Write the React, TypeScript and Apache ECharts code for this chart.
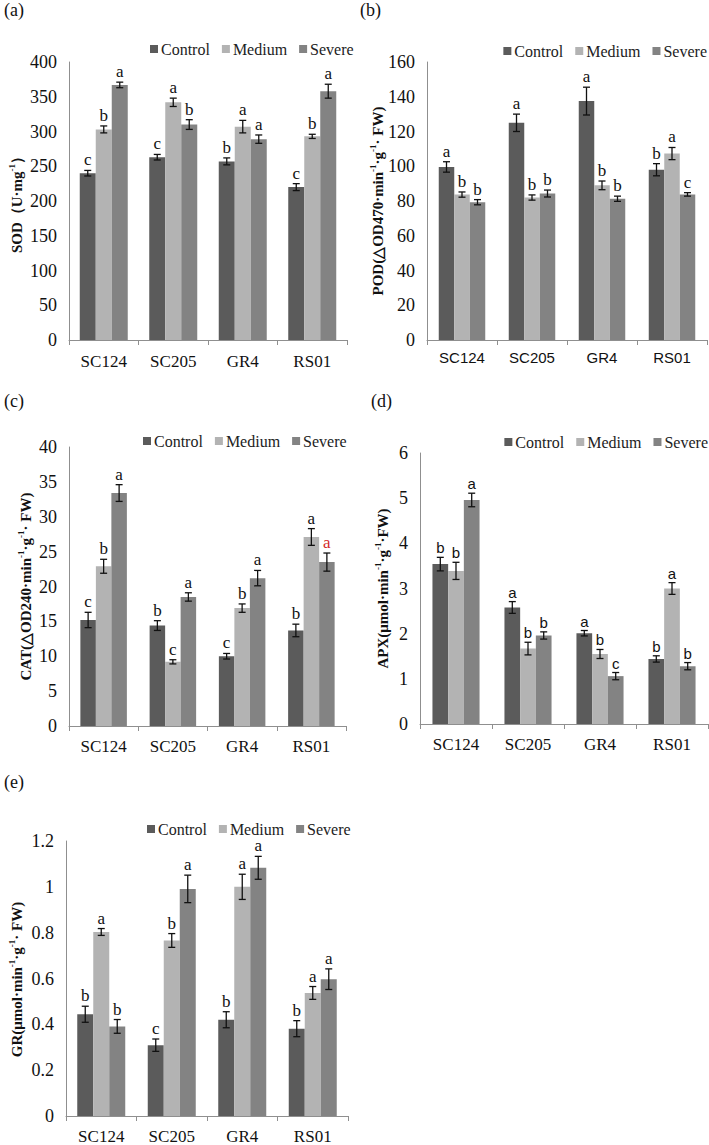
import React, { useEffect, useRef } from "react";
import * as echarts from "echarts";

const categories = ["SC124", "SC205", "GR4", "RS01"];
const treatments = ["Control", "Medium", "Severe"];

// (a) SOD
const sodControl = [240, 263, 257, 220];
const sodMedium = [303, 342, 307, 293];
const sodSevere = [367, 310, 289, 358];
const sodErrControl = [4, 4, 5, 5];
const sodErrMedium = [5, 6, 9, 3];
const sodErrSevere = [4, 7, 6, 10];
const sodLetControl = ["c", "c", "b", "c"];
const sodLetMedium = ["b", "a", "a", "b"];
const sodLetSevere = ["a", "b", "a", "a"];

// (b) POD
const podControl = [99.6, 125, 137.5, 98];
const podMedium = [83.7, 82, 89, 107.3];
const podSevere = [79.3, 84.3, 81.3, 83.8];
const podErrControl = [3, 5, 8, 3.5];
const podErrMedium = [1.5, 1.5, 2.5, 3.5];
const podErrSevere = [1.5, 2, 1.5, 1];
const podLetControl = ["a", "a", "a", "b"];
const podLetMedium = ["b", "b", "b", "a"];
const podLetSevere = ["b", "b", "b", "c"];

// (c) CAT
const catControl = [15.2, 14.4, 10.0, 13.7];
const catMedium = [22.9, 9.2, 16.9, 27.1];
const catSevere = [33.4, 18.5, 21.2, 23.5];
const catErrControl = [1.1, 0.7, 0.4, 0.9];
const catErrMedium = [1.0, 0.3, 0.6, 1.2];
const catErrSevere = [1.2, 0.6, 1.1, 1.3];
const catLetControl = ["c", "b", "c", "b"];
const catLetMedium = ["b", "c", "b", "a"];
const catLetSevere = ["a", "a", "a", "a"];

// (d) APX
const apxControl = [3.54, 2.58, 2.01, 1.44];
const apxMedium = [3.39, 1.67, 1.55, 3.0];
const apxSevere = [4.96, 1.96, 1.06, 1.28];
const apxErrControl = [0.15, 0.13, 0.06, 0.07];
const apxErrMedium = [0.19, 0.14, 0.1, 0.13];
const apxErrSevere = [0.15, 0.08, 0.08, 0.08];
const apxLetControl = ["b", "a", "a", "b"];
const apxLetMedium = ["b", "b", "b", "a"];
const apxLetSevere = ["a", "b", "c", "b"];

// (e) GR
const grControl = [0.444, 0.309, 0.42, 0.381];
const grMedium = [0.803, 0.766, 1.0, 0.537];
const grSevere = [0.391, 0.991, 1.083, 0.597];
const grErrControl = [0.035, 0.027, 0.035, 0.035];
const grErrMedium = [0.015, 0.03, 0.055, 0.028];
const grErrSevere = [0.03, 0.06, 0.05, 0.045];
const grLetControl = ["b", "c", "b", "b"];
const grLetMedium = ["a", "b", "a", "a"];
const grLetSevere = ["b", "a", "a", "a"];

const colors = ["#5b5b5b", "#b3b3b3", "#838383"];
const SERIF = "Liberation Serif";
const SANS = "Liberation Sans";

const panels = [
  {
    tag: "(a)", tagX: 4, tagY: 11,
    title: "{b|SOD（U·mg}{s|-1}{b|）}", titleX: 17,
    grid: { left: 69, top: 62, width: 278, height: 278 },
    max: 400, interval: 50, bw: 16,
    values: [sodControl, sodMedium, sodSevere],
    errs: [sodErrControl, sodErrMedium, sodErrSevere],
    letters: [sodLetControl, sodLetMedium, sodLetSevere],
    legend: { left: 150, cy: 50 } as any,
    catFont: SERIF, catSize: 17, catMargin: 13, letFont: SERIF,
  },
  {
    tag: "(b)", tagX: 360, tagY: 11,
    title: "{b|POD(△OD470·min}{s|-1}{b|·g}{s|-1}{b|· FW)}", titleX: 378,
    grid: { left: 427, top: 62, width: 280, height: 278 },
    max: 160, interval: 20, bw: 15.5,
    values: [podControl, podMedium, podSevere],
    errs: [podErrControl, podErrMedium, podErrSevere],
    letters: [podLetControl, podLetMedium, podLetSevere],
    legend: { right: 2, cy: 52 } as any,
    catFont: SANS, catSize: 15, catMargin: 10, letFont: SERIF,
  },
  {
    tag: "(c)", tagX: 4, tagY: 402,
    title: "{b|CAT(△OD240·min}{s|-1}{b|·g}{s|-1}{b|· FW)}", titleX: 26,
    grid: { left: 69, top: 447, width: 277, height: 279 },
    max: 40, interval: 5, bw: 15.5,
    values: [catControl, catMedium, catSevere],
    errs: [catErrControl, catErrMedium, catErrSevere],
    letters: [catLetControl, catLetMedium, catLetSevere],
    legend: { left: 143, cy: 442 } as any,
    catFont: SERIF, catSize: 17, catMargin: 12, letFont: SERIF,
  },
  {
    tag: "(d)", tagX: 371, tagY: 402,
    title: "{b|APX(μmol·min}{s|-1}{b|·g}{s|-1}{b|·FW)}", titleX: 383,
    grid: { left: 420, top: 453, width: 288, height: 271 },
    max: 6, interval: 1, bw: 15.7,
    values: [apxControl, apxMedium, apxSevere],
    errs: [apxErrControl, apxErrMedium, apxErrSevere],
    letters: [apxLetControl, apxLetMedium, apxLetSevere],
    legend: { right: 1, cy: 443 } as any,
    catFont: SERIF, catSize: 17, catMargin: 12, letFont: SANS,
  },
  {
    tag: "(e)", tagX: 4, tagY: 783,
    title: "{b|GR(μmol·min}{s|-1}{b|·g}{s|-1}{b|· FW)}", titleX: 17,
    grid: { left: 66, top: 841, width: 282, height: 277 },
    max: 1.2, interval: 0.2, bw: 16,
    values: [grControl, grMedium, grSevere],
    errs: [grErrControl, grErrMedium, grErrSevere],
    letters: [grLetControl, grLetMedium, grLetSevere],
    legend: { left: 147, cy: 830 } as any,
    catFont: SERIF, catSize: 17, catMargin: 12, letFont: SERIF,
  },
];

// highlighted (red) letter: panel (c), Severe, RS01
const redLetter = { panel: 2, treatment: 2, category: 3 };

function buildOption() {
  const grid: any[] = [];
  const xAxis: any[] = [];
  const yAxis: any[] = [];
  const series: any[] = [];
  const legend: any[] = [];
  const graphic: any[] = [];

  panels.forEach((p, i) => {
    grid.push({ ...p.grid, containLabel: false });
    xAxis.push({
      type: "category",
      gridIndex: i,
      data: categories,
      axisLine: { lineStyle: { color: "#8f8f8f", width: 1 } },
      axisTick: { show: true, length: 5, lineStyle: { color: "#8f8f8f" } },
      axisLabel: { fontFamily: p.catFont, fontSize: p.catSize, color: "#111", margin: p.catMargin },
    });
    yAxis.push({
      type: "value",
      gridIndex: i,
      min: 0,
      max: p.max,
      interval: p.interval,
      splitLine: { show: false },
      axisLine: { show: true, lineStyle: { color: "#8f8f8f", width: 1 } },
      axisTick: { show: false },
      axisLabel: { fontFamily: SERIF, fontSize: 18, color: "#111", margin: 12 },
    });
    treatments.forEach((t, ti) => {
      series.push({
        name: t,
        type: "bar",
        xAxisIndex: i,
        yAxisIndex: i,
        data: p.values[ti],
        barWidth: p.bw,
        barGap: "0%",
        itemStyle: { color: colors[ti] },
      });
      const offset = (ti - 1) * p.bw;
      const letters = p.letters[ti];
      series.push({
        name: `err-${i}-${ti}`,
        type: "custom",
        xAxisIndex: i,
        yAxisIndex: i,
        z: 10,
        encode: { x: 0, y: 1 },
        data: p.values[ti].map((v, ci) => [ci, v, p.errs[ti][ci]]),
        renderItem: (params: any, api: any) => {
          const ci = api.value(0);
          const v = api.value(1);
          const e = api.value(2);
          const top = api.coord([ci, v + e]);
          const bot = api.coord([ci, v - e]);
          const x = top[0] + offset;
          const cap = 3.5;
          const isRed = i === redLetter.panel && ti === redLetter.treatment && ci === redLetter.category;
          return {
            type: "group",
            children: [
              { type: "line", shape: { x1: x, y1: top[1], x2: x, y2: bot[1] }, style: { stroke: "#111", lineWidth: 1.3 } },
              { type: "line", shape: { x1: x - cap, y1: top[1], x2: x + cap, y2: top[1] }, style: { stroke: "#111", lineWidth: 1.3 } },
              { type: "line", shape: { x1: x - cap, y1: bot[1], x2: x + cap, y2: bot[1] }, style: { stroke: "#111", lineWidth: 1.3 } },
              {
                type: "text",
                style: {
                  text: letters[ci],
                  x: x,
                  y: top[1] - 2,
                  align: "center",
                  verticalAlign: "bottom",
                  fontFamily: p.letFont,
                  fontSize: p.letFont === SANS ? 15 : 17,
                  fill: isRed ? "#d42a2a" : "#111",
                },
              },
            ],
          };
        },
      });
    });
    const lg: any = {
      data: treatments,
      top: p.legend.cy - 9,
      padding: 0,
      icon: "rect",
      itemWidth: 8,
      itemHeight: 8,
      itemGap: 12,
      selectedMode: false,
      textStyle: { fontFamily: SERIF, fontSize: 16, color: "#222", padding: [0, 0, 0, -2] },
    };
    if (p.legend.left !== undefined) lg.left = p.legend.left;
    if (p.legend.right !== undefined) lg.right = p.legend.right;
    legend.push(lg);
    graphic.push({
      type: "text",
      left: p.tagX,
      top: p.tagY - 10,
      style: { text: p.tag, fontFamily: SERIF, fontSize: 18, fill: "#111" },
    });
    graphic.push({
      type: "text",
      x: p.titleX,
      y: p.grid.top + p.grid.height / 2,
      rotation: Math.PI / 2,
      style: {
        text: p.title,
        align: "center",
        verticalAlign: "middle",
        rich: {
          b: { fontFamily: SERIF, fontWeight: "bold", fontSize: 15, lineHeight: 20, fill: "#111" },
          s: { fontFamily: SERIF, fontWeight: "bold", fontSize: 9, lineHeight: 10, verticalAlign: "top", fill: "#111" },
        },
      },
    });
  });

  return {
    animation: false,
    backgroundColor: "#ffffff",
    textStyle: { fontFamily: SERIF },
    grid,
    xAxis,
    yAxis,
    series,
    legend,
    graphic,
  };
}

export default function App() {
  const ref = useRef<HTMLDivElement>(null);
  useEffect(() => {
    const chart = echarts.init(ref.current!, null, { renderer: "svg" });
    chart.setOption(buildOption() as any);
    return () => chart.dispose();
  }, []);
  return (
    <div
      ref={ref}
      style={{ position: "absolute", left: 0, top: 0, width: 709, height: 1145, background: "#fff" }}
    />
  );
}
